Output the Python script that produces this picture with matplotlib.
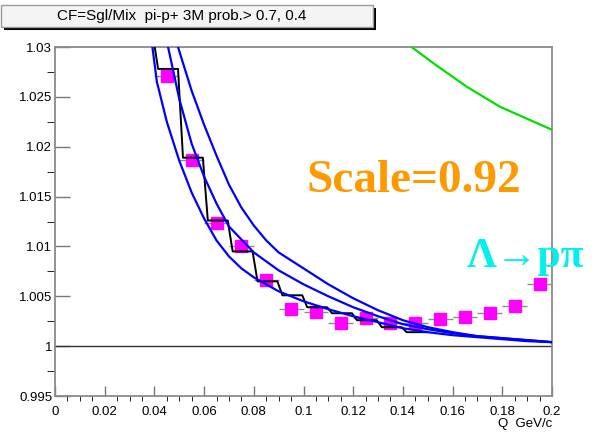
"""Correlation function CF = Sgl/Mix for pi- p+ pairs, with fit curves."""

import matplotlib.pyplot as plt
from matplotlib.patches import Rectangle
from matplotlib.ticker import MultipleLocator

# --- data --------------------------------------------------------------
q_pts = [0.045, 0.055, 0.065, 0.075, 0.085, 0.095, 0.105, 0.115,
         0.125, 0.135, 0.145, 0.155, 0.165, 0.175, 0.185, 0.195]
cf_pts = [1.0271, 1.0187, 1.01235, 1.0100, 1.00663, 1.00372, 1.00342, 1.00232,
          1.00282, 1.00232, 1.00232, 1.00272, 1.00292, 1.00332, 1.0040, 1.00623]

# black step histogram (bin low edges, width 0.01)
hist_lo = [0.03, 0.04, 0.05, 0.06, 0.07, 0.08, 0.09, 0.10, 0.11, 0.12, 0.13, 0.14]
hist_val = [1.0310, 1.0278, 1.0189, 1.0126, 1.0095, 1.0065, 1.0051, 1.0039,
            1.0033, 1.0026, 1.0019, 1.0014]

# three blue fit curves
q_low = [0.0392, 0.041, 0.045, 0.050, 0.055, 0.060, 0.065, 0.070, 0.075, 0.080,
         0.085, 0.090, 0.100, 0.110, 0.120, 0.130, 0.140, 0.150, 0.160, 0.170,
         0.180, 0.190, 0.200]
cf_low = [1.0300, 1.0265, 1.0225, 1.0186, 1.0154, 1.0128, 1.0106, 1.0090, 1.0078,
          1.0069, 1.0062, 1.0055, 1.0045, 1.0037, 1.0030, 1.0024, 1.0018, 1.0014,
          1.0011, 1.0009, 1.0007, 1.0005, 1.0004]
q_mid = [0.0455, 0.050, 0.055, 0.060, 0.065, 0.070, 0.080, 0.090, 0.100, 0.110,
         0.120, 0.130, 0.140, 0.150, 0.160, 0.170, 0.180, 0.190, 0.200]
cf_mid = [1.0300, 1.0248, 1.0203, 1.0170, 1.0143, 1.0120, 1.0094, 1.0076, 1.0062,
          1.0050, 1.0039, 1.0030, 1.0022, 1.0017, 1.0013, 1.0010, 1.0008, 1.0006, 1.0004]
q_up = [0.0495, 0.055, 0.060, 0.065, 0.070, 0.075, 0.080, 0.085, 0.090, 0.100,
        0.110, 0.120, 0.130, 0.140, 0.150, 0.160, 0.170, 0.180, 0.190, 0.200]
cf_up = [1.0300, 1.0256, 1.0222, 1.0191, 1.0162, 1.0139, 1.0121, 1.0106, 1.0094,
         1.0078, 1.0062, 1.0048, 1.0036, 1.0026, 1.0019, 1.0014, 1.0010, 1.0008,
         1.0006, 1.0004]

# green curve
q_green = [0.1435, 0.1521, 0.1658, 0.1791, 0.200]
cf_green = [1.0300, 1.0284, 1.0260, 1.0240, 1.0217]

title = "CF=Sgl/Mix  pi-p+ 3M prob.> 0.7, 0.4"

plt.rcParams["font.family"] = ["Liberation Sans", "DejaVu Sans"]

fig = plt.figure(figsize=(5.97, 4.33), dpi=100)
ax = fig.add_axes([55 / 597, 1 - 396 / 433, 497 / 597, 349 / 433])

# data points with grey error bars
ax.errorbar(q_pts, cf_pts, xerr=0.005, yerr=0.0003, fmt="s", ms=8,
            mfc="#ff00ff", mec="#ff00ff", ecolor="#8c8c8c", elinewidth=1.0,
            capsize=0, zorder=3)

# step histogram with slightly slanted risers
sx, sy = [], []
for lo, v in zip(hist_lo, hist_val):
    sx += [lo + 0.0015, lo + 0.0095]
    sy += [v, v]
ax.plot(sx, sy, color="black", lw=1.4, zorder=4)

for qq, cc in [(q_low, cf_low), (q_mid, cf_mid), (q_up, cf_up)]:
    ax.plot(qq, cc, color="#0000ff", lw=1.6, zorder=5)

ax.plot(q_green, cf_green, color="#00e000", lw=1.6, zorder=5)

ax.axhline(1.0, color="#333333", lw=1.0, zorder=2)

ax.set_xlim(0, 0.2)
ax.set_ylim(0.995, 1.03)
ax.xaxis.set_major_locator(MultipleLocator(0.02))
ax.xaxis.set_minor_locator(MultipleLocator(0.005))
ax.yaxis.set_major_locator(MultipleLocator(0.005))
ax.yaxis.set_minor_locator(MultipleLocator(0.0025))
ax.set_xticklabels(["0" if abs(t) < 1e-9 else f"{t:g}" for t in ax.get_xticks()])
ax.set_yticklabels([f"{t:g}" for t in ax.get_yticks()])

ax.tick_params(direction="in", colors="#777777", labelcolor="black",
               labelsize=9.5, width=1.0)
ax.tick_params(axis="y", which="major", length=10.5, pad=2)
ax.tick_params(axis="y", which="minor", length=5.5)
ax.tick_params(axis="x", which="major", length=7, pad=7.5)
ax.tick_params(axis="x", which="minor", length=3.5)
for s in ax.spines.values():
    s.set_color("#8a8a8a")
    s.set_linewidth(1.3)

fig.text(552 / 597, 1 - 424 / 433, "Q  GeV/c", ha="right", va="center",
         fontsize=9.5)

# title box with ROOT-style shadow
fig.patches.append(Rectangle((4 / 597, 1 - 30 / 433), 372 / 597, 22 / 433,
                             transform=fig.transFigure, facecolor="black",
                             edgecolor="none"))
fig.patches.append(Rectangle((1 / 597, 1 - 27 / 433), 372 / 597, 22 / 433,
                             transform=fig.transFigure, facecolor="#f4f4f4",
                             edgecolor="#9a9a9a", lw=1.0))
fig.text(182 / 597, 1 - 16 / 433, title, ha="center", va="center",
         fontsize=11)

fig.text(306 / 597, 1 - 192 / 433, "Scale=0.92", color="#ff9900", fontsize=34,
         fontweight="bold", family=["Liberation Serif", "DejaVu Serif"],
         ha="left", va="baseline")
fig.text(467 / 597, 1 - 267 / 433, "\u039b\u2192p\u03c0", color="#00f0f0",
         fontsize=30, fontweight="bold",
         family=["Liberation Serif", "DejaVu Serif"],
         ha="left", va="baseline")

fig.savefig("out.png", dpi=100)
